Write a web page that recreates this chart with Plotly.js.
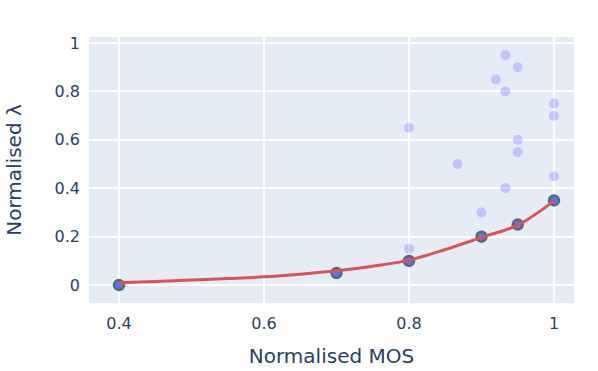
<!DOCTYPE html>
<html>
<head>
<meta charset="utf-8">
<script src="https://cdn.plot.ly/plotly-3.0.1.min.js"></script>
<style>
  html, body { margin: 0; padding: 0; }
  #plot { width: 598px; height: 371px; }
</style>
</head>
<body>
<div id="plot"></div>
<script>
// all evaluated configurations
let allMos = [0.4, 0.7, 0.8, 0.8, 0.8, 0.867, 0.9, 0.9, 0.92, 0.933, 0.933, 0.933, 0.95, 0.95, 0.95, 0.95, 1, 1, 1, 1];
let allLambda = [0, 0.05, 0.1, 0.15, 0.65, 0.5, 0.2, 0.3, 0.85, 0.95, 0.8, 0.4, 0.9, 0.6, 0.55, 0.25, 0.75, 0.7, 0.45, 0.35];

// pareto front
let frontMos = [0.4, 0.7, 0.8, 0.9, 0.95, 1];
let frontLambda = [0, 0.05, 0.1, 0.2, 0.25, 0.35];

// fitted curve
let fitMos = [0.4, 0.45, 0.5, 0.55, 0.6, 0.65, 0.7, 0.75, 0.8, 0.85, 0.9, 0.95, 1];
let fitLambda = [0.01, 0.015, 0.021, 0.027, 0.034, 0.045, 0.059, 0.078, 0.103, 0.147, 0.197, 0.248, 0.348];

let traceAll = {
    x: allMos,
    y: allLambda,
    mode: 'markers',
    type: 'scatter',
    marker: {color: '#636efa', size: 10, opacity: 0.3},
    showlegend: false
};
let traceFront = {
    x: frontMos,
    y: frontLambda,
    mode: 'markers',
    type: 'scatter',
    marker: {color: '#636efa', size: 10, line: {color: 'rgb(84,108,108)', width: 2.5}},
    showlegend: false
};
let traceFit = {
    x: fitMos,
    y: fitLambda,
    mode: 'lines',
    type: 'scatter',
    line: {color: 'rgb(217,83,91)', width: 3, shape: 'spline'},
    showlegend: false
};

let layout = {
    width: 598,
    height: 371,
    margin: {l: 89, r: 24, t: 37, b: 68},
    paper_bgcolor: 'white',
    plot_bgcolor: '#E5ECF6',
    font: {family: 'DejaVu Sans, Verdana, sans-serif', size: 16, color: '#2a3f5f'},
    xaxis: {
        title: {text: 'Normalised MOS', font: {size: 20}, standoff: 16},
        range: [0.3586, 1.0276],
        tickvals: [0.4, 0.6, 0.8, 1],
        ticktext: ['0.4', '0.6', '0.8', '1'],
        ticklabelstandoff: 9,
        gridcolor: 'white',
        gridwidth: 2,
        zeroline: false
    },
    yaxis: {
        title: {text: 'Normalised λ', font: {size: 20}, standoff: 27},
        range: [-0.074, 1.025],
        tickvals: [0, 0.2, 0.4, 0.6, 0.8, 1],
        ticktext: ['0', '0.2', '0.4', '0.6', '0.8', '1'],
        ticklabelstandoff: 8,
        gridcolor: 'white',
        gridwidth: 2,
        zeroline: true,
        zerolinecolor: 'white',
        zerolinewidth: 2
    }
};

Plotly.newPlot('plot', [traceAll, traceFront, traceFit], layout, {displayModeBar: false});
</script>
</body>
</html>
